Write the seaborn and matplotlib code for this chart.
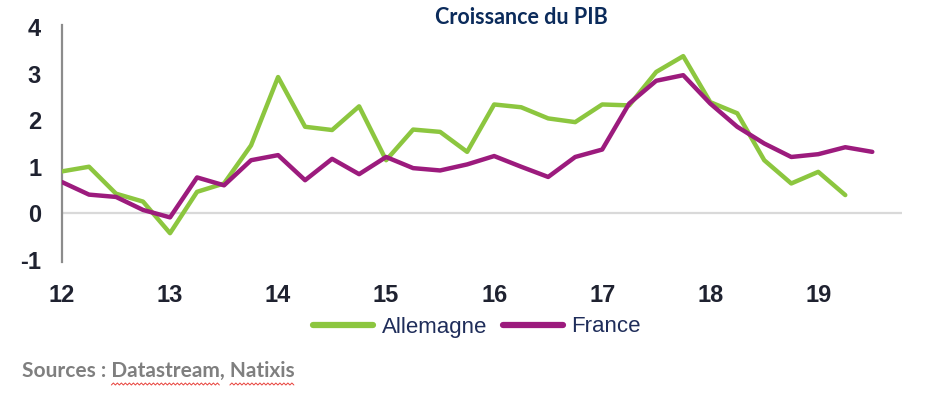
import matplotlib
matplotlib.use("Agg")
import matplotlib.pyplot as plt
import numpy as np
import pandas as pd
import seaborn as sns

# quarterly GDP growth (% y/y), 2012Q1 onwards
allemagne = [0.9, 1.0, 0.42, 0.25, -0.43, 0.46, 0.64, 1.46,
             2.93, 1.86, 1.79, 2.30, 1.14, 1.80, 1.75, 1.32,
             2.34, 2.28, 2.04, 1.96, 2.34, 2.32, 3.04, 3.38,
             2.39, 2.15, 1.14, 0.64, 0.89, 0.39]
france = [0.67, 0.40, 0.35, 0.07, -0.09, 0.77, 0.60, 1.14,
          1.25, 0.71, 1.17, 0.84, 1.21, 0.97, 0.92, 1.05,
          1.23, 1.00, 0.78, 1.21, 1.37, 2.36, 2.85, 2.97,
          2.36, 1.86, 1.50, 1.21, 1.27, 1.42, 1.32]
year_labels = ["12", "13", "14", "15", "16", "17", "18", "19"]
y_ticks = [-1, 0, 1, 2, 3, 4]

title = "Croissance du PIB"
source = "Sources : Datastream, Natixis"
colors = {"Allemagne": "#8cc63f", "France": "#9c1b7d"}

df = pd.concat([
    pd.DataFrame({"trimestre": np.arange(len(allemagne)), "pib": allemagne, "pays": "Allemagne"}),
    pd.DataFrame({"trimestre": np.arange(len(france)), "pib": france, "pays": "France"}),
], ignore_index=True)

sns.set_style("white")
plt.rcParams["font.family"] = ["Liberation Sans", "DejaVu Sans"]
plt.rcParams["axes.unicode_minus"] = False

W, H = 937, 409
fig = plt.figure(figsize=(W / 100, H / 100), dpi=100)
ax = fig.add_axes([62 / W, 1 - 262 / H, (902 - 62) / W, (262 - 25) / H])

ax.axhline(0, color="#d9d9d9", lw=1.6, zorder=1)
sns.lineplot(data=df, x="trimestre", y="pib", hue="pays", palette=colors,
             linewidth=3.2, ax=ax, legend=False, zorder=3)

ax.set_xlim(0, 31.1)
ax.set_ylim(-1.05, 4.05)
ax.set_xticks(np.arange(len(year_labels)) * 4)
ax.set_xticklabels(year_labels)
ax.set_yticks(y_ticks)
ax.tick_params(axis="both", length=0, labelsize=17, labelcolor="#1f2230")
ax.tick_params(axis="x", pad=16)
ax.tick_params(axis="y", pad=15)
for lab in ax.get_xticklabels() + ax.get_yticklabels():
    lab.set_family(["Liberation Sans Narrow", "Liberation Sans", "DejaVu Sans"])
    lab.set_fontweight("bold")
ax.set_xlabel("")
ax.set_ylabel("")
for side in ["top", "right", "bottom"]:
    ax.spines[side].set_visible(False)
ax.spines["left"].set_color("#8c8c8c")
ax.spines["left"].set_linewidth(1.6)

fig.text(521 / W, 1 - 18 / H, title, ha="center", va="center",
         fontsize=15.5, fontweight="bold", color="#0b2b5b", family=["Lato", "DejaVu Sans"])

handles = [plt.Line2D([], [], color=colors[k], lw=4.5) for k in ["Allemagne", "France"]]
fig.legend(handles, ["Allemagne", "France"], loc="center",
           bbox_to_anchor=(477 / W, 1 - 327 / H), ncol=2, frameon=False,
           fontsize=16, labelcolor="#1f2d5a", handlelength=2.7,
           handletextpad=0.4, columnspacing=0.7)

src = fig.text(22 / W, 1 - 371 / H, source, ha="left", va="center",
               fontsize=15, fontweight="bold", color="#7f7f7f", family=["Lato", "DejaVu Sans"])

# spell-check squiggle under the two proper nouns
fig.canvas.draw()
renderer = fig.canvas.get_renderer()


def text_width(s):
    t = fig.text(0, 0, s, fontsize=15, fontweight="bold", family=["Lato", "DejaVu Sans"])
    w = t.get_window_extent(renderer).width
    t.remove()
    return w


x0 = src.get_window_extent(renderer).x0
for prefix, word in [("Sources : Datastream", "Datastream"), (source, "Natixis")]:
    end = x0 + text_width(prefix)
    start = end - text_width(word)
    xs = np.arange(start, end, 2.0)
    ys = (H - 384) + np.where(np.arange(len(xs)) % 2 == 0, -1.0, 1.0)
    fig.add_artist(plt.Line2D(xs / W, ys / H, color="#e8403a", lw=0.7))

fig.savefig("out.png", dpi=100)
